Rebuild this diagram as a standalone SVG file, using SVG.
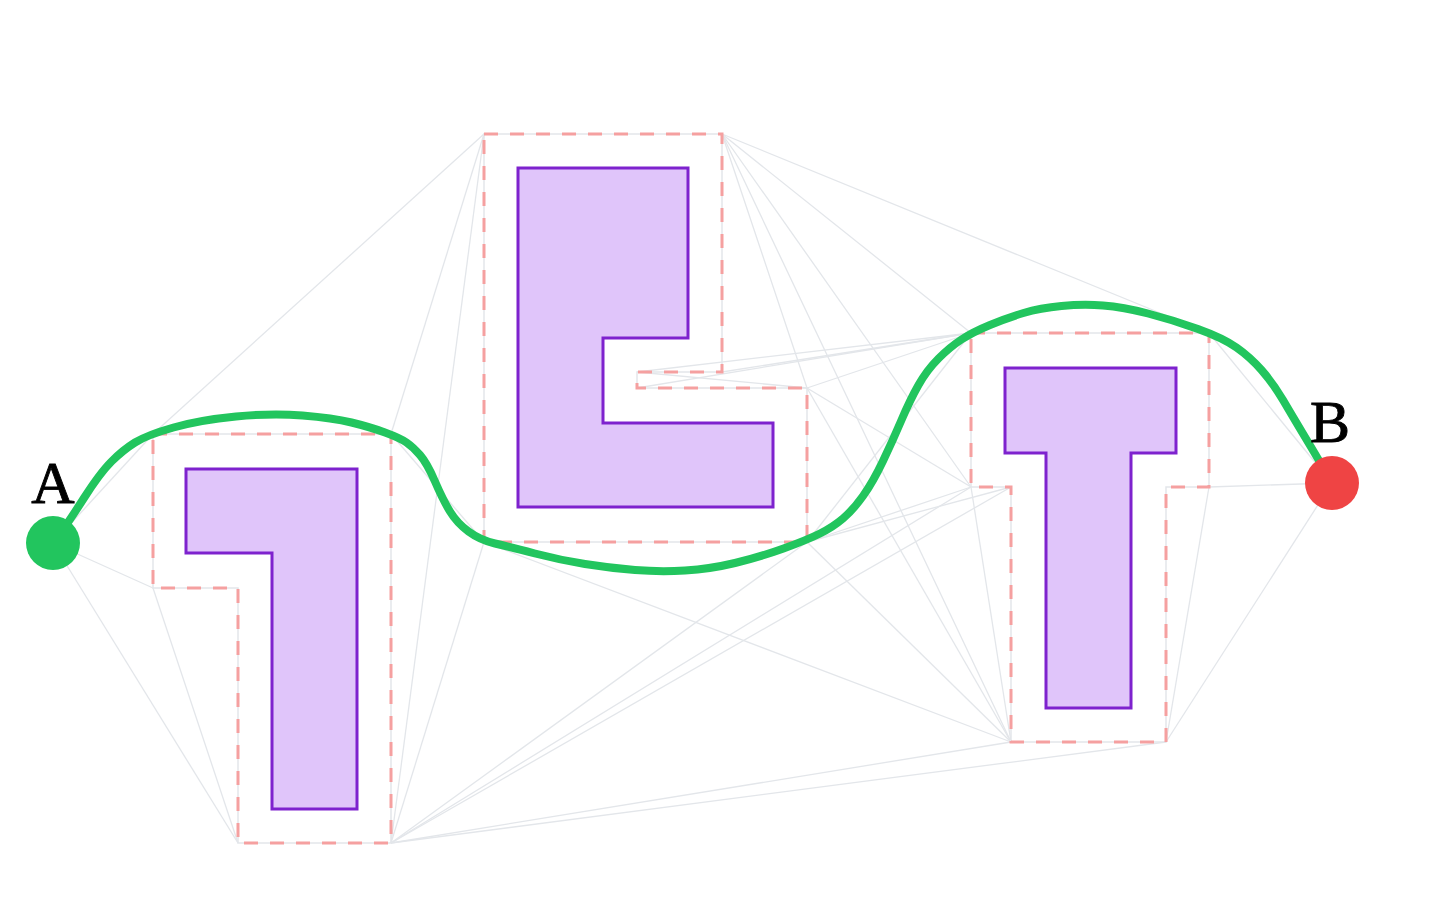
<svg xmlns="http://www.w3.org/2000/svg" width="1450" height="918" viewBox="0 0 1450 918">
<style>
.edge{stroke:#e3e6ea;stroke-width:1.3;fill:none}
.buf{fill:none;stroke:#f5a0a0;stroke-width:3;stroke-dasharray:14 12}
.bufline{fill:none;stroke:#e3e6ea;stroke-width:1.5}
.obs{fill:#e0c5fa;stroke:#7e22ce;stroke-width:3}
.path{fill:none;stroke:#22c55e;stroke-width:8;stroke-linecap:round;stroke-linejoin:round}
.lbl{font-family:"Liberation Serif","Times New Roman",serif;font-size:60px;fill:#000;stroke:#000;stroke-width:0.9;text-anchor:middle}
</style>
<rect width="1450" height="918" fill="#ffffff"/>
<g id="connectors">
<line class="edge" x1="53" y1="543" x2="153" y2="434"/>
<line class="edge" x1="53" y1="543" x2="153" y2="588"/>
<line class="edge" x1="53" y1="543" x2="238" y2="843"/>
<line class="edge" x1="153" y1="588" x2="238" y2="843"/>
<line class="edge" x1="153" y1="434" x2="484" y2="134"/>
<line class="edge" x1="391" y1="434" x2="484" y2="134"/>
<line class="edge" x1="391" y1="434" x2="484" y2="542"/>
<line class="edge" x1="391" y1="843" x2="484" y2="134"/>
<line class="edge" x1="391" y1="843" x2="484" y2="542"/>
<line class="edge" x1="391" y1="843" x2="807" y2="542"/>
<line class="edge" x1="391" y1="843" x2="971" y2="487"/>
<line class="edge" x1="391" y1="843" x2="1011" y2="487"/>
<line class="edge" x1="391" y1="843" x2="1011" y2="742"/>
<line class="edge" x1="391" y1="843" x2="1166" y2="742"/>
<line class="edge" x1="484" y1="542" x2="1011" y2="742"/>
<line class="edge" x1="722" y1="134" x2="1209" y2="333"/>
<line class="edge" x1="722" y1="134" x2="971" y2="333"/>
<line class="edge" x1="722" y1="134" x2="971" y2="487"/>
<line class="edge" x1="722" y1="134" x2="1011" y2="742"/>
<line class="edge" x1="722" y1="134" x2="807" y2="388"/>
<line class="edge" x1="637" y1="372" x2="807" y2="388"/>
<line class="edge" x1="637" y1="372" x2="971" y2="333"/>
<line class="edge" x1="637" y1="388" x2="971" y2="333"/>
<line class="edge" x1="722" y1="372" x2="971" y2="333"/>
<line class="edge" x1="807" y1="388" x2="971" y2="333"/>
<line class="edge" x1="807" y1="388" x2="971" y2="487"/>
<line class="edge" x1="807" y1="388" x2="1011" y2="742"/>
<line class="edge" x1="807" y1="542" x2="971" y2="333"/>
<line class="edge" x1="807" y1="542" x2="971" y2="487"/>
<line class="edge" x1="807" y1="542" x2="1011" y2="487"/>
<line class="edge" x1="807" y1="542" x2="1011" y2="742"/>
<line class="edge" x1="971" y1="487" x2="1011" y2="742"/>
<line class="edge" x1="1209" y1="487" x2="1166" y2="742"/>
<line class="edge" x1="1209" y1="333" x2="1332" y2="483"/>
<line class="edge" x1="1209" y1="487" x2="1332" y2="483"/>
<line class="edge" x1="1166" y1="742" x2="1332" y2="483"/>
</g>
<g id="obstacle-1">
<polygon class="bufline" points="153,434 391,434 391,843 238,843 238,588 153,588"/>
<polygon class="buf" points="153,434 391,434 391,843 238,843 238,588 153,588"/>
<polygon class="obs" points="186,469 357,469 357,809 272,809 272,553 186,553"/>
</g>
<g id="obstacle-2">
<polygon class="bufline" points="484,134 722,134 722,372 637,372 637,388 807,388 807,542 484,542"/>
<polygon class="buf" points="484,134 722,134 722,372 637,372 637,388 807,388 807,542 484,542"/>
<polygon class="obs" points="518,168 688,168 688,338 603,338 603,423 773,423 773,507 518,507"/>
</g>
<g id="obstacle-3">
<polygon class="bufline" points="971,333 1209,333 1209,487 1166,487 1166,742 1011,742 1011,487 971,487"/>
<polygon class="buf" points="971,333 1209,333 1209,487 1166,487 1166,742 1011,742 1011,487 971,487"/>
<polygon class="obs" points="1005,368 1176,368 1176,453 1131,453 1131,708 1046,708 1046,453 1005,453"/>
</g>
<g id="route">
<path class="path" d="M53,543 L60.5,533 Q68,523 84,498 Q100,473 111.5,461.5 Q123,450 135,442.5 Q147,435 173.5,427.5 Q200,420 236,416.5 Q272,413 302.5,415.5 Q333,418 351.5,422.5 Q370,427 385,432.5 Q400,438 406.5,442.5 Q413,447 420,455 Q427,463 435,481.5 Q443,500 450,511.5 Q457,523 468.5,531.5 Q480,540 495,543.5 Q510,547 535,553.5 Q560,560 585,564 Q610,568 635,570 Q660,572 685,570.5 Q710,569 735,563 Q760,557 783.5,548.5 Q807,540 820,533.5 Q833,527 843,518.5 Q853,510 863,496 Q873,482 883,461 Q893,440 901.5,420 Q910,400 918.5,385 Q927,370 938.5,358.5 Q950,347 961.5,339.5 Q973,332 990,325 Q1007,318 1023.5,313 Q1040,308 1061.5,306 Q1083,304 1103,305.5 Q1123,307 1148,313.5 Q1173,320 1198,329 Q1223,338 1236.5,347.5 Q1250,357 1261.5,370 Q1273,383 1283,400 Q1293,417 1305,437 Q1317,457 1324.5,470 L1332,483"/>
</g>
<g id="node-A">
<circle cx="53" cy="543" r="27" fill="#22c55e"/>
<text class="lbl" x="53" y="503">A</text>
</g>
<g id="node-B">
<circle cx="1332" cy="483" r="27" fill="#ef4444"/>
<text class="lbl" x="1330" y="442">B</text>
</g>
</svg>
